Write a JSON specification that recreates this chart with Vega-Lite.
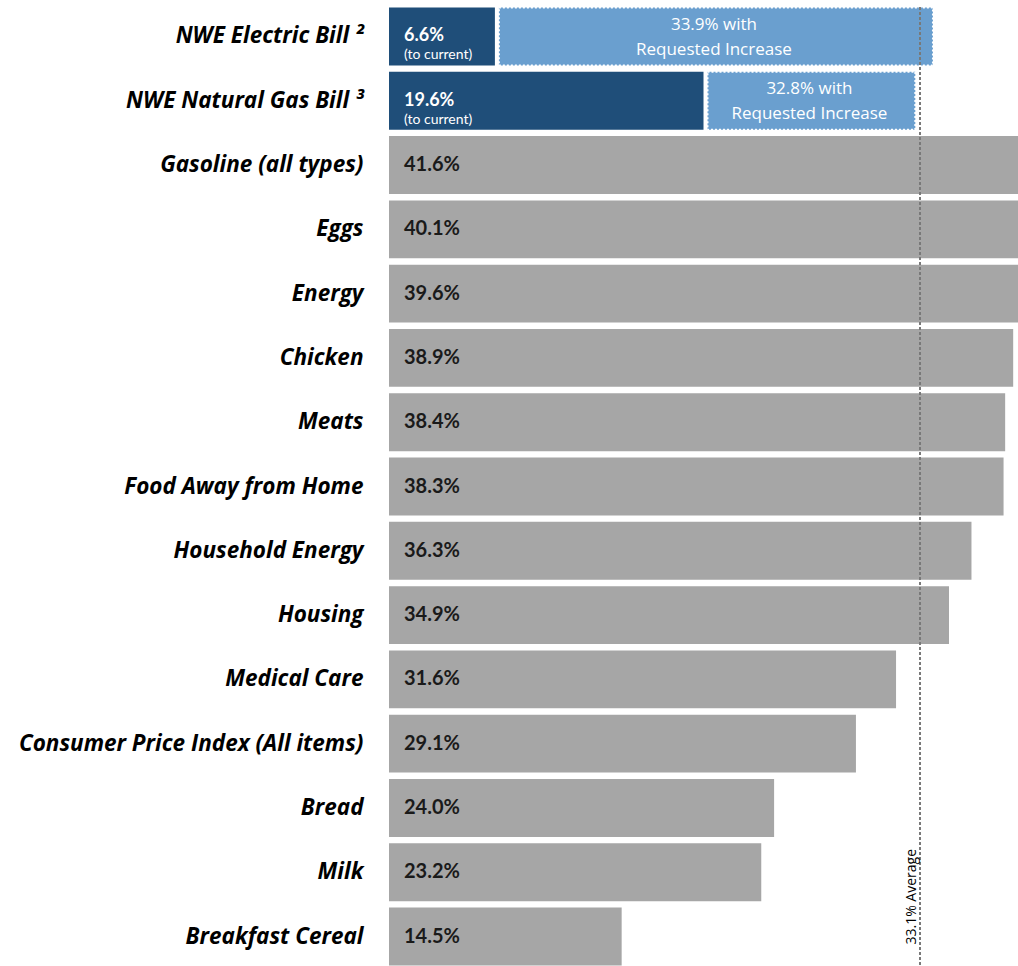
{
  "$schema": "https://vega.github.io/schema/vega-lite/v6.json",
  "autosize": {"type": "none"},
  "width": 629,
  "height": 959,
  "padding": {"left": 389, "top": 7, "right": 0, "bottom": 0},
  "background": "white",
  "config": {"view": {"stroke": null}},
  "data": {"values": [
    {"category": "NWE Electric Bill ²", "group": "nwe", "value": 0.066, "requested": 0.339, "note": "33.9% with\nRequested Increase"},
    {"category": "NWE Natural Gas Bill ³", "group": "nwe", "value": 0.196, "requested": 0.328, "note": "32.8%  with\nRequested Increase"},
    {"category": "Gasoline (all types)", "group": "cpi", "value": 0.416},
    {"category": "Eggs", "group": "cpi", "value": 0.401},
    {"category": "Energy", "group": "cpi", "value": 0.396},
    {"category": "Chicken", "group": "cpi", "value": 0.389},
    {"category": "Meats", "group": "cpi", "value": 0.384},
    {"category": "Food Away from Home", "group": "cpi", "value": 0.383},
    {"category": "Household Energy", "group": "cpi", "value": 0.363},
    {"category": "Housing", "group": "cpi", "value": 0.349},
    {"category": "Medical Care", "group": "cpi", "value": 0.316},
    {"category": "Consumer Price Index (All items)", "group": "cpi", "value": 0.291},
    {"category": "Bread", "group": "cpi", "value": 0.240},
    {"category": "Milk", "group": "cpi", "value": 0.232},
    {"category": "Breakfast Cereal", "group": "cpi", "value": 0.145}
  ]},
  "layer": [
    {
      "mark": {"type": "bar", "clip": true},
      "encoding": {
        "y": {
          "field": "category", "type": "nominal", "sort": null,
          "scale": {"paddingInner": 0.1, "paddingOuter": 0.008},
          "axis": {
            "title": null, "domain": false, "ticks": false, "labelPadding": 26,
            "labelFont": "Open Sans", "labelFontSize": 22.5, "labelFontWeight": "bold",
            "labelFontStyle": "italic", "labelColor": "#000000", "labelLimit": 420
          }
        },
        "x": {"field": "value", "type": "quantitative", "scale": {"domain": [0, 0.392], "nice": false, "zero": true}, "axis": null},
        "color": {"field": "group", "type": "nominal", "scale": {"domain": ["nwe", "cpi"], "range": ["#1F4E79", "#A6A6A6"]}, "legend": null}
      }
    },
    {
      "transform": [{"filter": "datum.group === 'nwe'"}],
      "mark": {"type": "bar", "clip": true, "xOffset": 4, "fill": "#6A9FCF", "stroke": "#ffffff", "strokeWidth": 2, "strokeDash": [2, 2]},
      "encoding": {
        "y": {"field": "category", "type": "nominal", "sort": null},
        "x": {"field": "value", "type": "quantitative"},
        "x2": {"field": "requested"}
      }
    },
    {
      "mark": {"type": "rule", "color": "#7a7a7a", "strokeWidth": 1, "strokeDash": [3, 2]},
      "encoding": {"x": {"datum": 0.331}}
    },
    {
      "transform": [{"filter": "datum.group === 'cpi'"}],
      "mark": {"type": "text", "align": "left", "baseline": "middle", "dx": 15, "font": "Lato", "fontSize": 20, "fontWeight": "bold", "color": "#1a1a1a"},
      "encoding": {
        "y": {"field": "category", "type": "nominal", "sort": null},
        "x": {"datum": 0},
        "text": {"field": "value", "type": "quantitative", "format": ".1%"}
      }
    },
    {
      "transform": [{"filter": "datum.group === 'nwe'"}],
      "mark": {"type": "text", "align": "left", "baseline": "middle", "dx": 15, "dy": 0, "font": "Lato", "fontSize": 18, "fontWeight": "bold", "color": "#ffffff"},
      "encoding": {
        "y": {"field": "category", "type": "nominal", "sort": null},
        "x": {"datum": 0},
        "text": {"field": "value", "type": "quantitative", "format": ".1%"}
      }
    },
    {
      "transform": [{"filter": "datum.group === 'nwe'"}],
      "mark": {"type": "text", "align": "left", "baseline": "middle", "dx": 15, "dy": 19, "font": "Lato", "fontSize": 14, "color": "#ffffff"},
      "encoding": {
        "y": {"field": "category", "type": "nominal", "sort": null},
        "x": {"datum": 0},
        "text": {"datum": "(to current)"}
      }
    },
    {
      "transform": [
        {"filter": "datum.group === 'nwe'"},
        {"calculate": "(datum.value + datum.requested) / 2", "as": "mid"}
      ],
      "mark": {"type": "text", "align": "center", "baseline": "middle", "dy": -11.5, "lineBreak": "\n", "lineHeight": 25, "font": "Open Sans", "fontSize": 17, "color": "#ffffff"},
      "encoding": {
        "y": {"field": "category", "type": "nominal", "sort": null},
        "x": {"field": "mid", "type": "quantitative"},
        "text": {"field": "note", "type": "nominal"}
      }
    },
    {
      "transform": [{"filter": "datum.category === 'Breakfast Cereal'"}],
      "mark": {"type": "text", "angle": 270, "align": "left", "baseline": "bottom", "yOffset": 8, "xOffset": -1, "font": "Open Sans", "fontSize": 14, "color": "#000000"},
      "encoding": {
        "y": {"field": "category", "type": "nominal", "sort": null},
        "x": {"datum": 0.331},
        "text": {"datum": "33.1% Average"}
      }
    }
  ]
}
